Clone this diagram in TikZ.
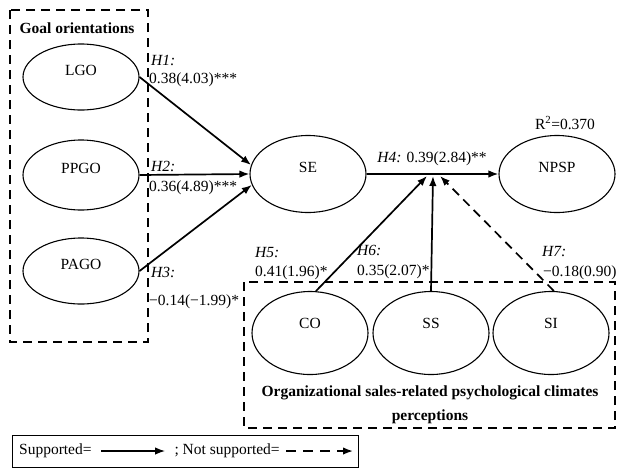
\documentclass[tikz,border=0pt]{standalone}
\usepackage{fontspec}
\setmainfont{Liberation Serif}
\usetikzlibrary{shapes.geometric,arrows.meta}
\begin{document}
\begin{tikzpicture}[x=1pt,y=-1pt,
    font=\fontsize{15.5}{18}\selectfont,
    construct/.style={draw, ellipse, line width=1.1pt, minimum width=116pt, minimum height=66pt,
        inner sep=0pt, text depth=14pt},
    groupbox/.style={line width=1.6pt, dash pattern=on 9pt off 6pt},
    hyp/.style={line width=1.7pt, -{Latex[length=10pt,width=7.5pt]}},
    nothyp/.style={hyp, dash pattern=on 9pt off 6pt},
    lab/.style={anchor=west, inner sep=1pt}]
    \useasboundingbox (0,0) rectangle (617,469);

    % Goal orientations
    \draw[groupbox] (10,10) rectangle (148,342);
    \node at (77,28) {\textbf{Goal orientations}};
    \node[construct] (lgo) at (81,77) {LGO};
    \node[construct, minimum height=70pt] (ppgo) at (81,175) {PPGO};
    \node[construct] (pago) at (81,271) {PAGO};

    % Self-efficacy and outcome
    \node[construct, minimum height=77pt] (se) at (308,174) {SE};
    \node[construct, minimum height=77pt] (npsp) at (557,174) {NPSP};
    \node at (565,123) {R\textsuperscript{2}=0.370};

    % Climate perceptions
    \draw[groupbox] (244,282) rectangle (615,428);
    \node[construct, minimum height=83pt, text depth=20pt] (co) at (310,333) {CO};
    \node[construct, minimum height=83pt, text depth=20pt] (ss) at (431,333) {SS};
    \node[construct, minimum height=83pt, text depth=20pt] (si) at (551,333) {SI};
    \node[align=center, font=\fontsize{15.5}{24}\selectfont\bfseries] at (430,405)
        {Organizational sales-related psychological climates\\perceptions};

    % Paths
    \draw[hyp] (lgo.east) -- (se.171);
    \draw[hyp] (ppgo.east) -- (se.west);
    \draw[hyp] (pago.east) -- (se.191);
    \draw[hyp] (se.east) -- (npsp.west);
    \coordinate (mod) at (433,176);
    \draw[hyp] (co.82) -- ([xshift=-6pt]mod);
    \draw[hyp] (ss.north) -- (mod);
    \draw[nothyp] (si.86) -- ([xshift=7pt]mod);

    % Path estimates
    \node[lab] at (150,60) {\textit{H1:}};
    \node[lab] at (148,80) {0.38(4.03)***};
    \node[lab] at (150,166) {\textit{H2:}};
    \node[lab] at (148,188) {0.36(4.89)***};
    \node[lab] at (150,272) {\textit{H3:}};
    \node[lab] at (148,302) {−0.14(−1.99)*};
    \node at (432,159) {\textit{H4:} 0.39(2.84)**};
    \node[lab] at (254,253) {\textit{H5:}};
    \node[lab] at (254,273) {0.41(1.96)*};
    \node[lab] at (356,250) {\textit{H6:}};
    \node[lab] at (356,272) {0.35(2.07)*};
    \node[lab] at (541,252) {\textit{H7:}};
    \node[lab] at (542,273) {−0.18(0.90)};

    % Legend
    \node[draw, line width=0.8pt, minimum width=346pt, minimum height=32pt, inner sep=0pt] (legend) at (185,451) {};
    \node[anchor=west] (supp) at ([xshift=4pt]legend.west) {Supported=};
    \node[anchor=west] (nsupp) at (171,451) {; Not supported=};
    \coordinate (legend end) at (353,451);
    \draw[hyp, line width=1.3pt, shorten <=6pt, shorten >=6pt] (supp.east) -- (nsupp.west);
    \draw[nothyp, line width=1.6pt, dash pattern=on 10pt off 7pt, shorten <=3pt] (nsupp.east) -- (legend end);
\end{tikzpicture}
\end{document}
